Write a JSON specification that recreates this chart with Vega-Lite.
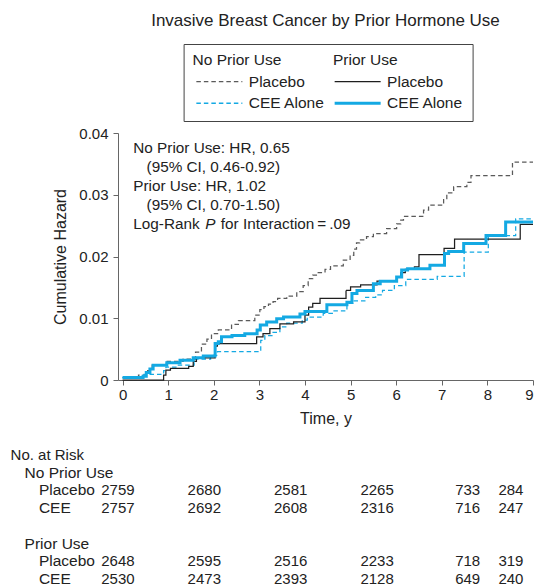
{
  "$schema": "https://vega.github.io/schema/vega-lite/v6.json",
  "padding": {"left": 10, "top": 11, "right": 5, "bottom": 0},
  "bounds": "flush",
  "spacing": 75,
  "config": {
    "font": "Liberation Sans",
    "view": {"stroke": null},
    "axis": {
      "grid": false,
      "domainColor": "#666666",
      "tickColor": "#666666",
      "tickSize": 5,
      "labelColor": "#222222",
      "titleColor": "#222222",
      "labelFont": "Liberation Sans",
      "titleFont": "Liberation Sans",
      "labelFontSize": 15,
      "titleFontSize": 16,
      "titleFontWeight": "normal"
    },
    "legend": {
      "orient": "none", "legendX": 65.6, "legendY": -89,
      "columns": 2, "columnPadding": 2.3, "rowPadding": 5,
      "symbolType": "M-1,0H10.5", "symbolSize": 64,
      "strokeColor": "#444444", "padding": 9,
      "titleFontSize": 15.5, "titleFontWeight": "normal", "titleColor": "#222222", "titlePadding": 5, "titleLimit": 400,
      "labelFontSize": 15.5, "labelColor": "#222222", "labelOffset": 40.7, "labelLimit": 200
    },
    "text": {"font": "Liberation Sans", "fill": "#222222"}
  },
  "resolve": {
    "scale": {"color": "independent", "strokeDash": "independent"},
    "legend": {"color": "independent", "strokeDash": "independent"}
  },
  "vconcat": [
    {
      "width": 415,
      "height": 247,
      "title": {
        "text": "Invasive Breast Cancer by Prior Hormone Use",
        "fontSize": 17,
        "fontWeight": "normal",
        "color": "#222222",
        "anchor": "middle",
        "frame": "group",
        "offset": 14
      },
      "layer": [
        {
          "data": {
            "values": [
              {"series": "No Prior Use / Placebo", "t": 0, "h": 0.0004},
              {"series": "No Prior Use / Placebo", "t": 0.35, "h": 0.0008},
              {"series": "No Prior Use / Placebo", "t": 0.55, "h": 0.0015},
              {"series": "No Prior Use / Placebo", "t": 0.65, "h": 0.0024},
              {"series": "No Prior Use / Placebo", "t": 0.95, "h": 0.003},
              {"series": "No Prior Use / Placebo", "t": 1.33, "h": 0.0034},
              {"series": "No Prior Use / Placebo", "t": 1.6, "h": 0.0045},
              {"series": "No Prior Use / Placebo", "t": 1.73, "h": 0.0058},
              {"series": "No Prior Use / Placebo", "t": 1.85, "h": 0.0066},
              {"series": "No Prior Use / Placebo", "t": 1.95, "h": 0.0075},
              {"series": "No Prior Use / Placebo", "t": 2.1, "h": 0.0081},
              {"series": "No Prior Use / Placebo", "t": 2.39, "h": 0.009},
              {"series": "No Prior Use / Placebo", "t": 2.54, "h": 0.0096},
              {"series": "No Prior Use / Placebo", "t": 2.9, "h": 0.0105},
              {"series": "No Prior Use / Placebo", "t": 3.01, "h": 0.0114},
              {"series": "No Prior Use / Placebo", "t": 3.1, "h": 0.0119},
              {"series": "No Prior Use / Placebo", "t": 3.2, "h": 0.0123},
              {"series": "No Prior Use / Placebo", "t": 3.3, "h": 0.0127},
              {"series": "No Prior Use / Placebo", "t": 3.4, "h": 0.0132},
              {"series": "No Prior Use / Placebo", "t": 3.6, "h": 0.0136},
              {"series": "No Prior Use / Placebo", "t": 3.82, "h": 0.0143},
              {"series": "No Prior Use / Placebo", "t": 3.96, "h": 0.0153},
              {"series": "No Prior Use / Placebo", "t": 4.07, "h": 0.0164},
              {"series": "No Prior Use / Placebo", "t": 4.17, "h": 0.017},
              {"series": "No Prior Use / Placebo", "t": 4.29, "h": 0.0174},
              {"series": "No Prior Use / Placebo", "t": 4.44, "h": 0.0179},
              {"series": "No Prior Use / Placebo", "t": 4.56, "h": 0.0185},
              {"series": "No Prior Use / Placebo", "t": 4.84, "h": 0.0194},
              {"series": "No Prior Use / Placebo", "t": 4.99, "h": 0.0202},
              {"series": "No Prior Use / Placebo", "t": 5.07, "h": 0.0212},
              {"series": "No Prior Use / Placebo", "t": 5.13, "h": 0.0222},
              {"series": "No Prior Use / Placebo", "t": 5.2, "h": 0.0227},
              {"series": "No Prior Use / Placebo", "t": 5.35, "h": 0.0232},
              {"series": "No Prior Use / Placebo", "t": 5.5, "h": 0.0237},
              {"series": "No Prior Use / Placebo", "t": 5.79, "h": 0.0245},
              {"series": "No Prior Use / Placebo", "t": 6.01, "h": 0.0253},
              {"series": "No Prior Use / Placebo", "t": 6.1, "h": 0.0259},
              {"series": "No Prior Use / Placebo", "t": 6.16, "h": 0.0265},
              {"series": "No Prior Use / Placebo", "t": 6.6, "h": 0.0275},
              {"series": "No Prior Use / Placebo", "t": 6.71, "h": 0.0283},
              {"series": "No Prior Use / Placebo", "t": 7.04, "h": 0.0292},
              {"series": "No Prior Use / Placebo", "t": 7.11, "h": 0.0303},
              {"series": "No Prior Use / Placebo", "t": 7.26, "h": 0.0313},
              {"series": "No Prior Use / Placebo", "t": 7.55, "h": 0.032},
              {"series": "No Prior Use / Placebo", "t": 7.64, "h": 0.0331},
              {"series": "No Prior Use / Placebo", "t": 8.55, "h": 0.0353},
              {"series": "No Prior Use / Placebo", "t": 9, "h": 0.0353},

              {"series": "No Prior Use / CEE Alone", "t": 0, "h": 0.0004},
              {"series": "No Prior Use / CEE Alone", "t": 0.47, "h": 0.0009},
              {"series": "No Prior Use / CEE Alone", "t": 0.9, "h": 0.0015},
              {"series": "No Prior Use / CEE Alone", "t": 0.95, "h": 0.0021},
              {"series": "No Prior Use / CEE Alone", "t": 1.2, "h": 0.0024},
              {"series": "No Prior Use / CEE Alone", "t": 1.57, "h": 0.0034},
              {"series": "No Prior Use / CEE Alone", "t": 1.93, "h": 0.004},
              {"series": "No Prior Use / CEE Alone", "t": 2.08, "h": 0.0046},
              {"series": "No Prior Use / CEE Alone", "t": 3.03, "h": 0.0064},
              {"series": "No Prior Use / CEE Alone", "t": 3.12, "h": 0.0072},
              {"series": "No Prior Use / CEE Alone", "t": 3.3, "h": 0.0077},
              {"series": "No Prior Use / CEE Alone", "t": 3.45, "h": 0.0086},
              {"series": "No Prior Use / CEE Alone", "t": 3.6, "h": 0.0092},
              {"series": "No Prior Use / CEE Alone", "t": 3.94, "h": 0.0097},
              {"series": "No Prior Use / CEE Alone", "t": 4.05, "h": 0.0102},
              {"series": "No Prior Use / CEE Alone", "t": 4.4, "h": 0.0108},
              {"series": "No Prior Use / CEE Alone", "t": 4.6, "h": 0.0112},
              {"series": "No Prior Use / CEE Alone", "t": 4.92, "h": 0.0124},
              {"series": "No Prior Use / CEE Alone", "t": 5.05, "h": 0.0128},
              {"series": "No Prior Use / CEE Alone", "t": 5.33, "h": 0.0134},
              {"series": "No Prior Use / CEE Alone", "t": 5.55, "h": 0.0138},
              {"series": "No Prior Use / CEE Alone", "t": 5.7, "h": 0.0145},
              {"series": "No Prior Use / CEE Alone", "t": 5.96, "h": 0.0153},
              {"series": "No Prior Use / CEE Alone", "t": 6.21, "h": 0.0163},
              {"series": "No Prior Use / CEE Alone", "t": 6.9, "h": 0.0168},
              {"series": "No Prior Use / CEE Alone", "t": 7.49, "h": 0.0207},
              {"series": "No Prior Use / CEE Alone", "t": 8.02, "h": 0.0234},
              {"series": "No Prior Use / CEE Alone", "t": 8.62, "h": 0.0261},
              {"series": "No Prior Use / CEE Alone", "t": 9, "h": 0.0261},

              {"series": "Prior Use / Placebo", "t": 0, "h": 0},
              {"series": "Prior Use / Placebo", "t": 0.9, "h": 0.0008},
              {"series": "Prior Use / Placebo", "t": 0.95, "h": 0.0016},
              {"series": "Prior Use / Placebo", "t": 1.05, "h": 0.0019},
              {"series": "Prior Use / Placebo", "t": 1.45, "h": 0.0022},
              {"series": "Prior Use / Placebo", "t": 1.55, "h": 0.003},
              {"series": "Prior Use / Placebo", "t": 1.62, "h": 0.0036},
              {"series": "Prior Use / Placebo", "t": 2.03, "h": 0.0055},
              {"series": "Prior Use / Placebo", "t": 2.08, "h": 0.0059},
              {"series": "Prior Use / Placebo", "t": 2.94, "h": 0.007},
              {"series": "Prior Use / Placebo", "t": 3.08, "h": 0.0075},
              {"series": "Prior Use / Placebo", "t": 3.23, "h": 0.0083},
              {"series": "Prior Use / Placebo", "t": 3.45, "h": 0.0091},
              {"series": "Prior Use / Placebo", "t": 3.75, "h": 0.0094},
              {"series": "Prior Use / Placebo", "t": 4.0, "h": 0.0105},
              {"series": "Prior Use / Placebo", "t": 4.08, "h": 0.0118},
              {"series": "Prior Use / Placebo", "t": 4.17, "h": 0.0124},
              {"series": "Prior Use / Placebo", "t": 4.33, "h": 0.0132},
              {"series": "Prior Use / Placebo", "t": 4.9, "h": 0.0145},
              {"series": "Prior Use / Placebo", "t": 5.0, "h": 0.0151},
              {"series": "Prior Use / Placebo", "t": 5.22, "h": 0.0154},
              {"series": "Prior Use / Placebo", "t": 5.58, "h": 0.016},
              {"series": "Prior Use / Placebo", "t": 6.02, "h": 0.0167},
              {"series": "Prior Use / Placebo", "t": 6.1, "h": 0.0174},
              {"series": "Prior Use / Placebo", "t": 6.2, "h": 0.0179},
              {"series": "Prior Use / Placebo", "t": 6.4, "h": 0.0183},
              {"series": "Prior Use / Placebo", "t": 6.5, "h": 0.0203},
              {"series": "Prior Use / Placebo", "t": 7.05, "h": 0.0213},
              {"series": "Prior Use / Placebo", "t": 7.28, "h": 0.0228},
              {"series": "Prior Use / Placebo", "t": 8.72, "h": 0.0252},
              {"series": "Prior Use / Placebo", "t": 9, "h": 0.0252},

              {"series": "Prior Use / CEE Alone", "t": 0, "h": 0.0004},
              {"series": "Prior Use / CEE Alone", "t": 0.45, "h": 0.0006},
              {"series": "Prior Use / CEE Alone", "t": 0.52, "h": 0.0012},
              {"series": "Prior Use / CEE Alone", "t": 0.6, "h": 0.0018},
              {"series": "Prior Use / CEE Alone", "t": 0.67, "h": 0.0024},
              {"series": "Prior Use / CEE Alone", "t": 0.97, "h": 0.0028},
              {"series": "Prior Use / CEE Alone", "t": 1.26, "h": 0.0032},
              {"series": "Prior Use / CEE Alone", "t": 1.55, "h": 0.0036},
              {"series": "Prior Use / CEE Alone", "t": 1.77, "h": 0.0039},
              {"series": "Prior Use / CEE Alone", "t": 2.03, "h": 0.0059},
              {"series": "Prior Use / CEE Alone", "t": 2.1, "h": 0.0062},
              {"series": "Prior Use / CEE Alone", "t": 2.17, "h": 0.007},
              {"series": "Prior Use / CEE Alone", "t": 2.4, "h": 0.0072},
              {"series": "Prior Use / CEE Alone", "t": 2.68, "h": 0.0075},
              {"series": "Prior Use / CEE Alone", "t": 2.95, "h": 0.0081},
              {"series": "Prior Use / CEE Alone", "t": 3.02, "h": 0.0089},
              {"series": "Prior Use / CEE Alone", "t": 3.16, "h": 0.0094},
              {"series": "Prior Use / CEE Alone", "t": 3.38, "h": 0.0099},
              {"series": "Prior Use / CEE Alone", "t": 3.53, "h": 0.0102},
              {"series": "Prior Use / CEE Alone", "t": 3.89, "h": 0.0107},
              {"series": "Prior Use / CEE Alone", "t": 4.0, "h": 0.0111},
              {"series": "Prior Use / CEE Alone", "t": 4.48, "h": 0.0122},
              {"series": "Prior Use / CEE Alone", "t": 4.92, "h": 0.0126},
              {"series": "Prior Use / CEE Alone", "t": 5.03, "h": 0.014},
              {"series": "Prior Use / CEE Alone", "t": 5.14, "h": 0.0145},
              {"series": "Prior Use / CEE Alone", "t": 5.5, "h": 0.0156},
              {"series": "Prior Use / CEE Alone", "t": 5.65, "h": 0.016},
              {"series": "Prior Use / CEE Alone", "t": 6.01, "h": 0.0167},
              {"series": "Prior Use / CEE Alone", "t": 6.12, "h": 0.0178},
              {"series": "Prior Use / CEE Alone", "t": 6.25, "h": 0.018},
              {"series": "Prior Use / CEE Alone", "t": 6.74, "h": 0.0186},
              {"series": "Prior Use / CEE Alone", "t": 7.06, "h": 0.0205},
              {"series": "Prior Use / CEE Alone", "t": 7.15, "h": 0.0208},
              {"series": "Prior Use / CEE Alone", "t": 7.48, "h": 0.0221},
              {"series": "Prior Use / CEE Alone", "t": 7.97, "h": 0.0234},
              {"series": "Prior Use / CEE Alone", "t": 8.4, "h": 0.0256},
              {"series": "Prior Use / CEE Alone", "t": 9, "h": 0.0256}
            ]
          },
          "mark": {"type": "line", "interpolate": "step-after"},
          "encoding": {
            "x": {
              "field": "t",
              "type": "quantitative",
              "title": "Time, y",
              "scale": {"domain": [-0.1, 9], "nice": false, "zero": false},
              "axis": {"values": [0, 1, 2, 3, 4, 5, 6, 7, 8, 9], "format": "d", "labelPadding": 2, "titlePadding": 8}
            },
            "y": {
              "field": "h",
              "type": "quantitative",
              "title": "Cumulative Hazard",
              "scale": {"domain": [0, 0.04], "nice": false},
              "axis": {"values": [0, 0.01, 0.02, 0.03, 0.04], "format": ".2~f", "labelPadding": 5, "titlePadding": 10}
            },
            "color": {
              "field": "series",
              "type": "nominal",
              "scale": {
                "domain": ["No Prior Use / Placebo", "No Prior Use / CEE Alone", "Prior Use / Placebo", "Prior Use / CEE Alone"],
                "range": ["#5a5a5a", "#14a9e3", "#1f1f1f", "#14a9e3"]
              },
              "legend": {
                "title": "No Prior Use\u00a0\u00a0\u00a0\u00a0\u00a0\u00a0\u00a0\u00a0\u00a0\u00a0\u00a0\u00a0Prior Use",
                "labelExpr": "datum.label == 'No Prior Use / Placebo' || datum.label == 'Prior Use / Placebo' ? 'Placebo' : 'CEE Alone'",
                "encode": {"symbols": {"update": {"strokeWidth": {"signal": "datum.value == 'Prior Use / CEE Alone' ? 3 : 1.3"}}}}
              }
            },
            "strokeDash": {
              "field": "series",
              "type": "nominal",
              "scale": {
                "domain": ["No Prior Use / Placebo", "No Prior Use / CEE Alone", "Prior Use / Placebo", "Prior Use / CEE Alone"],
                "range": [[4.5, 3], [4.5, 3], [1, 0], [1, 0]]
              },
              "legend": {
                "title": "No Prior Use\u00a0\u00a0\u00a0\u00a0\u00a0\u00a0\u00a0\u00a0\u00a0\u00a0\u00a0\u00a0Prior Use",
                "labelExpr": "datum.label == 'No Prior Use / Placebo' || datum.label == 'Prior Use / Placebo' ? 'Placebo' : 'CEE Alone'",
                "encode": {"symbols": {"update": {"strokeWidth": {"signal": "datum.value == 'Prior Use / CEE Alone' ? 3 : 1.3"}}}}
              }
            },
            "strokeWidth": {
              "condition": {"test": "datum.series == 'Prior Use / CEE Alone'", "value": 3},
              "value": 1.25
            }
          }
        },
        {
          "data": {"values": [{}]},
          "mark": {"type": "text", "align": "left", "baseline": "alphabetic", "fontSize": 15.3, "fill": "#222222", "text": "No Prior Use: HR, 0.65"},
          "encoding": {
            "x": {"datum": 0.235, "type": "quantitative"},
            "y": {"datum": 0.03677, "type": "quantitative"}
          }
        },
        {
          "data": {"values": [{}]},
          "mark": {"type": "text", "align": "left", "baseline": "alphabetic", "fontSize": 15.3, "fill": "#222222", "text": "(95% CI, 0.46-0.92)", "dx": 13.3},
          "encoding": {
            "x": {"datum": 0.235, "type": "quantitative"},
            "y": {"datum": 0.03371, "type": "quantitative"}
          }
        },
        {
          "data": {"values": [{}]},
          "mark": {"type": "text", "align": "left", "baseline": "alphabetic", "fontSize": 15.3, "fill": "#222222", "text": "Prior Use: HR, 1.02"},
          "encoding": {
            "x": {"datum": 0.235, "type": "quantitative"},
            "y": {"datum": 0.03059, "type": "quantitative"}
          }
        },
        {
          "data": {"values": [{}]},
          "mark": {"type": "text", "align": "left", "baseline": "alphabetic", "fontSize": 15.3, "fill": "#222222", "text": "(95% CI, 0.70-1.50)", "dx": 13.3},
          "encoding": {
            "x": {"datum": 0.235, "type": "quantitative"},
            "y": {"datum": 0.02754, "type": "quantitative"}
          }
        },
        {
          "data": {"values": [{}]},
          "mark": {"type": "text", "align": "left", "baseline": "alphabetic", "fontSize": 15.3, "fill": "#222222", "text": "Log-Rank"},
          "encoding": {
            "x": {"datum": 0.235, "type": "quantitative"},
            "y": {"datum": 0.02441, "type": "quantitative"}
          }
        },
        {
          "data": {"values": [{}]},
          "mark": {"type": "text", "align": "left", "baseline": "alphabetic", "fontSize": 15.3, "fontStyle": "italic", "fill": "#222222", "text": "P", "dx": 72},
          "encoding": {
            "x": {"datum": 0.235, "type": "quantitative"},
            "y": {"datum": 0.02441, "type": "quantitative"}
          }
        },
        {
          "data": {"values": [{}]},
          "mark": {"type": "text", "align": "left", "baseline": "alphabetic", "fontSize": 15.3, "fill": "#222222", "text": "for Interaction\u2009=\u2009.09", "dx": 87.5},
          "encoding": {
            "x": {"datum": 0.235, "type": "quantitative"},
            "y": {"datum": 0.02441, "type": "quantitative"}
          }
        }
      ]
    },
    {
      "width": 415,
      "height": 124,
      "layer": [
        {
          "data": {
            "values": [
              {"row": "No Prior Use|Placebo", "time": 0, "n": 2759},
              {"row": "No Prior Use|Placebo", "time": 2, "n": 2680},
              {"row": "No Prior Use|Placebo", "time": 4, "n": 2581},
              {"row": "No Prior Use|Placebo", "time": 6, "n": 2265},
              {"row": "No Prior Use|Placebo", "time": 8, "n": 733},
              {"row": "No Prior Use|Placebo", "time": 9, "n": 284},
              {"row": "No Prior Use|CEE", "time": 0, "n": 2757},
              {"row": "No Prior Use|CEE", "time": 2, "n": 2692},
              {"row": "No Prior Use|CEE", "time": 4, "n": 2608},
              {"row": "No Prior Use|CEE", "time": 6, "n": 2316},
              {"row": "No Prior Use|CEE", "time": 8, "n": 716},
              {"row": "No Prior Use|CEE", "time": 9, "n": 247},
              {"row": "Prior Use|Placebo", "time": 0, "n": 2648},
              {"row": "Prior Use|Placebo", "time": 2, "n": 2595},
              {"row": "Prior Use|Placebo", "time": 4, "n": 2516},
              {"row": "Prior Use|Placebo", "time": 6, "n": 2233},
              {"row": "Prior Use|Placebo", "time": 8, "n": 718},
              {"row": "Prior Use|Placebo", "time": 9, "n": 319},
              {"row": "Prior Use|CEE", "time": 0, "n": 2530},
              {"row": "Prior Use|CEE", "time": 2, "n": 2473},
              {"row": "Prior Use|CEE", "time": 4, "n": 2393},
              {"row": "Prior Use|CEE", "time": 6, "n": 2128},
              {"row": "Prior Use|CEE", "time": 8, "n": 649},
              {"row": "Prior Use|CEE", "time": 9, "n": 240}
            ]
          },
          "mark": {"type": "text", "align": "right", "baseline": "middle", "fontSize": 15, "fill": "#222222"},
          "encoding": {
            "x": {"field": "time", "type": "quantitative", "scale": {"domain": [-0.384, 9.222], "nice": false, "zero": false}, "axis": null},
            "y": {
              "field": "row", "type": "nominal",
              "scale": {"type": "point", "padding": 0, "domain": ["No. at Risk", "No Prior Use", "No Prior Use|Placebo", "No Prior Use|CEE", "gap", "Prior Use", "Prior Use|Placebo", "Prior Use|CEE"]},
              "axis": null
            },
            "text": {"field": "n", "type": "quantitative", "format": "d"}
          }
        },
        {
          "data": {
            "values": [
              {"row": "No Prior Use|Placebo", "label": "Placebo"},
              {"row": "No Prior Use|CEE", "label": "CEE"},
              {"row": "Prior Use|Placebo", "label": "Placebo"},
              {"row": "Prior Use|CEE", "label": "CEE"}
            ]
          },
          "mark": {"type": "text", "align": "left", "baseline": "middle", "fontSize": 15.5, "fill": "#222222"},
          "encoding": {
            "x": {"datum": -2.215, "type": "quantitative"},
            "y": {"field": "row", "type": "nominal"},
            "text": {"field": "label"}
          }
        },
        {
          "data": {
            "values": [
              {"row": "No Prior Use", "label": "No Prior Use"},
              {"row": "Prior Use", "label": "Prior Use"}
            ]
          },
          "mark": {"type": "text", "align": "left", "baseline": "middle", "fontSize": 15.5, "fill": "#222222"},
          "encoding": {
            "x": {"datum": -2.546, "type": "quantitative"},
            "y": {"field": "row", "type": "nominal"},
            "text": {"field": "label"}
          }
        },
        {
          "data": {"values": [{"row": "No. at Risk", "label": "No. at Risk"}]},
          "mark": {"type": "text", "align": "left", "baseline": "middle", "fontSize": 15, "fill": "#222222"},
          "encoding": {
            "x": {"datum": -2.87, "type": "quantitative"},
            "y": {"field": "row", "type": "nominal"},
            "text": {"field": "label"}
          }
        }
      ]
    }
  ]
}
